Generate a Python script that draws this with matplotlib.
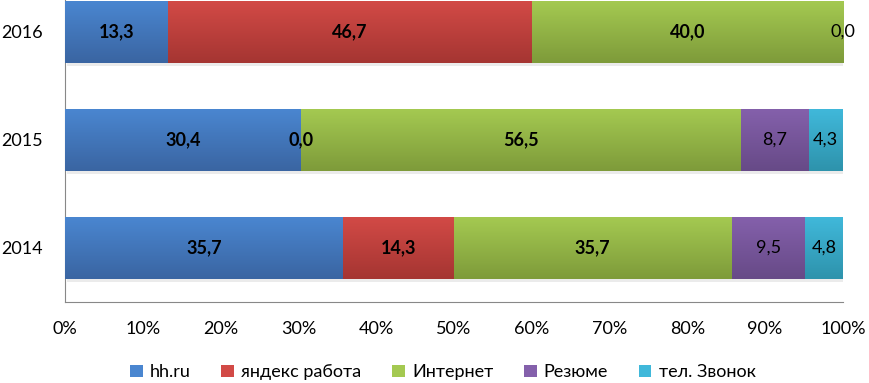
import numpy as np
from matplotlib import pyplot as plt
from matplotlib.patches import Rectangle
from matplotlib.colors import LinearSegmentedColormap

plt.rcParams['font.family'] = ['Lato', 'DejaVu Sans']

years = ['2014', '2015', '2016']
series = ['hh.ru', 'яндекс работа', 'Интернет', 'Резюме', 'тел. Звонок']
hh = [35.7, 30.4, 13.3]
yandex = [14.3, 0.0, 46.7]
internet = [35.7, 56.5, 40.0]
resume = [9.5, 8.7, 0.0]
call = [4.8, 4.3, np.nan]
values = [hh, yandex, internet, resume, call]
bold = [True, True, True, False, False]

# top / bottom colours of the gradient fill
tops = ['#4a86d0', '#d24a46', '#a4c951', '#8460ab', '#40b8da']
bottoms = ['#3a65a2', '#a53532', '#7e9b3a', '#674a87', '#2e93ac']

fig = plt.figure(figsize=(8.7, 3.83), dpi=100)
ax = fig.add_axes([0.0747, 0.2115, 0.894, 0.846])

h = 0.57
fs = 13
grad = np.linspace(0, 1, 64).reshape(-1, 1)
left = np.zeros(len(years))
for vals, top, bot, b, name in zip(values, tops, bottoms, bold, series):
    v = np.nan_to_num(np.array(vals, dtype=float))
    bars = ax.barh(range(len(years)), v, height=h, left=left, color=top,
                   edgecolor='none', label=name, zorder=3)
    cmap = LinearSegmentedColormap.from_list(name, [top, bot])
    for i, r in enumerate(bars):
        if v[i] <= 0:
            continue
        x0, y0 = r.get_x(), r.get_y()
        im = ax.imshow(grad, cmap=cmap, aspect='auto', zorder=4,
                       extent=[x0, x0 + r.get_width(), y0, y0 + h],
                       origin='upper')
        im.set_clip_path(r)
        # soft shadow under the bar
        ax.add_patch(Rectangle((x0 + 0.3, y0 - 0.03), r.get_width(), 0.03,
                               color='#000000', alpha=0.08, lw=0, zorder=2))
    for i, r in enumerate(bars):
        if np.isnan(vals[i]):
            continue
        cx = r.get_x() + r.get_width() / 2
        ax.text(cx, i, f'{vals[i]:.1f}'.replace('.', ','), ha='center',
                va='center', fontsize=fs, zorder=6, clip_on=False,
                fontweight='bold' if b else 'normal', color='black')
    left = left + v

ax.set_xlim(0, 100)
ax.set_ylim(-0.5, 2.5)
ax.set_xticks(np.arange(0, 101, 10))
ax.set_xticklabels([f'{t}%' for t in range(0, 101, 10)])
ax.set_yticks(range(len(years)))
ax.set_yticklabels(years)
ax.tick_params(axis='both', length=0, labelsize=fs)
ax.tick_params(axis='x', pad=14)
ax.tick_params(axis='y', pad=16)
for s in ['top', 'right']:
    ax.spines[s].set_visible(False)
for s in ['left', 'bottom']:
    ax.spines[s].set_color('#888888')
ax.set_facecolor('none')

fig.legend(loc='center', bbox_to_anchor=(0.509, 0.028), ncol=5, frameon=False,
           fontsize=fs, handlelength=0.7, handleheight=0.7, handletextpad=0.4,
           columnspacing=1.7)

fig.savefig('out.png', dpi=100)
